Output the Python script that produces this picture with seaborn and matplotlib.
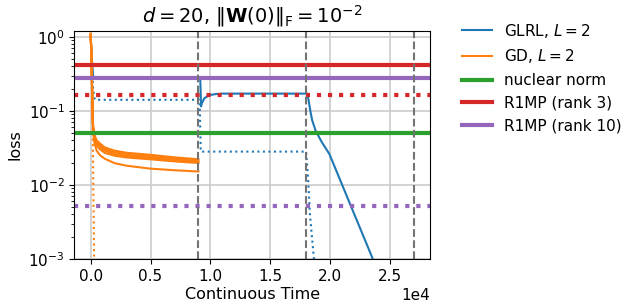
import numpy as np
import pandas as pd
import matplotlib
matplotlib.use("Agg")
import matplotlib.pyplot as plt
import seaborn as sns

# GLRL, L = 2 : solid = test loss, dotted = train loss
glrl_time = [0, 100, 200, 300, 9150, 9180, 9220, 9300, 9500, 9900, 10500, 11000,
             18100, 18200, 18370, 18500, 18790, 19300, 19950, 21000, 23550, 24500]
glrl_test = [1.0, 0.5, 0.3, 0.28, 0.279, 0.2, 0.115, 0.128, 0.148, 0.163, 0.169, 0.171,
             0.171, 0.14, 0.096, 0.075, 0.054, 0.038, 0.026, 0.0101, 0.00102, 0.0004]
glrl_train_time = [0, 100, 200, 300, 400, 9100, 9150, 9200, 18000, 18170, 18310, 18650, 19000]
glrl_train = [1.0, 0.5, 0.2, 0.15, 0.141, 0.141, 0.06, 0.0282, 0.0282, 0.0117, 0.0041, 0.001, 0.0003]

# GD, L = 2 : several runs (test loss), one train loss curve
gd_time = [0, 40, 80, 120, 160, 200, 300, 500, 800, 1200, 2000, 3000, 5000, 7000, 9000]
gd_run_a = [1.10, 0.78, 0.45, 0.22, 0.110, 0.064, 0.048, 0.040, 0.036, 0.032, 0.0290, 0.0272, 0.0255, 0.0236, 0.0222]
gd_run_b = [1.08, 0.76, 0.43, 0.21, 0.105, 0.062, 0.046, 0.038, 0.034, 0.0305, 0.0276, 0.0260, 0.0244, 0.0226, 0.0214]
gd_run_c = [1.06, 0.74, 0.42, 0.20, 0.100, 0.060, 0.044, 0.036, 0.032, 0.0288, 0.0262, 0.0247, 0.0232, 0.0216, 0.0205]
gd_run_d = [1.05, 0.72, 0.40, 0.19, 0.095, 0.058, 0.042, 0.034, 0.030, 0.0270, 0.0248, 0.0235, 0.0222, 0.0208, 0.0198]
gd_run_e = [1.04, 0.70, 0.39, 0.18, 0.090, 0.055, 0.038, 0.029, 0.025, 0.0225, 0.0197, 0.0182, 0.0166, 0.0158, 0.0152]
gd_train_time = [0, 100, 170, 220, 290, 330]
gd_train = [1.1, 0.35, 0.07, 0.01, 0.001, 0.0002]

# baselines
nuclear_test = 0.0509
r1mp3_test, r1mp3_train = 0.418, 0.166
r1mp10_test, r1mp10_train = 0.279, 0.0052
stage_ends = [9000, 18000, 27000]

blue, orange, green, red, purple = sns.color_palette("tab10")[:5]

fig = plt.figure(figsize=(6.26, 3.03), dpi=100)
ax = fig.add_axes([0.119, 0.145, 0.568, 0.753])

glrl_df = pd.DataFrame({"t": glrl_time, "loss": glrl_test})
glrl_tr_df = pd.DataFrame({"t": glrl_train_time, "loss": glrl_train})
sns.lineplot(data=glrl_tr_df, x="t", y="loss", color=blue, lw=1.5, ls=":", ax=ax,
             estimator=None, sort=False)
sns.lineplot(data=glrl_df, x="t", y="loss", color=blue, lw=1.5, ax=ax,
             estimator=None, sort=False, label="GLRL, $L = 2$")

gd_tr_df = pd.DataFrame({"t": gd_train_time, "loss": gd_train})
sns.lineplot(data=gd_tr_df, x="t", y="loss", color=orange, lw=1.5, ls=":", ax=ax,
             estimator=None, sort=False)
for i, run in enumerate([gd_run_a, gd_run_b, gd_run_c, gd_run_d, gd_run_e]):
    df = pd.DataFrame({"t": gd_time, "loss": run})
    sns.lineplot(data=df, x="t", y="loss", color=orange, lw=1.5, ax=ax,
                 estimator=None, sort=False,
                 label="GD, $L = 2$" if i == 0 else None)

ax.axhline(nuclear_test, color=green, lw=3, label="nuclear norm")
ax.axhline(r1mp3_test, color=red, lw=3, label="R1MP (rank 3)")
ax.axhline(r1mp3_train, color=red, lw=3, ls=":")
ax.axhline(r1mp10_test, color=purple, lw=3, label="R1MP (rank 10)")
ax.axhline(r1mp10_train, color=purple, lw=3, ls=":")
for t in stage_ends:
    ax.axvline(t, color="0.45", lw=1.5, ls="--")

ax.set_yscale("log")
ax.set_ylim(1e-3, 1.2)
ax.set_xlim(-1350, 28350)
ax.ticklabel_format(axis="x", style="sci", scilimits=(0, 0))
ax.grid(True, which="major", color="0.8", lw=1.2)
ax.set_axisbelow(True)
ax.tick_params(labelsize=11)
ax.xaxis.get_offset_text().set_fontsize(11)
ax.set_xlabel("Continuous Time", fontsize=11.5, labelpad=2)
ax.set_ylabel("loss", fontsize=11.5)
ax.set_title(r"$d = 20$, $\|\mathbf{W}(0)\|_{\mathrm{F}} = 10^{-2}$", fontsize=14)
ax.legend(loc="upper left", bbox_to_anchor=(1.05, 1.10), frameon=False, fontsize=11)

fig.savefig("out.png", dpi=100)
